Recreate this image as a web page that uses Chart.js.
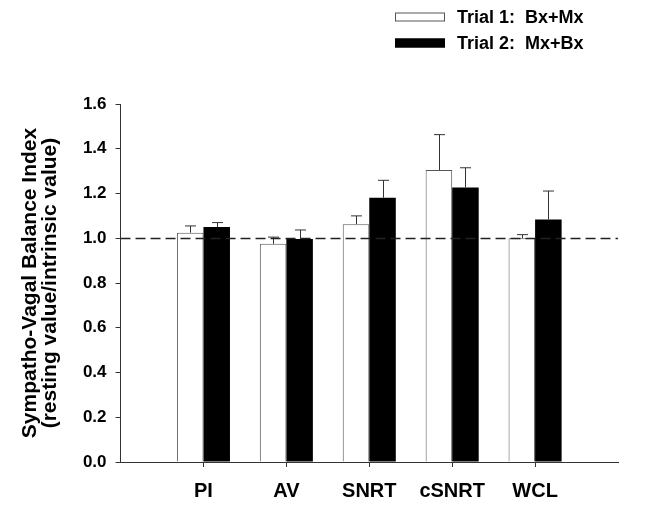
<!DOCTYPE html>
<html>
<head>
<meta charset="utf-8">
<script src="https://cdn.jsdelivr.net/npm/chart.js@4"></script>
<style>
  body { margin: 0; background: #fff; }
  #wrap { width: 645px; height: 509px; }
</style>
</head>
<body>
<div id="wrap"><canvas id="grafico" width="645" height="509"></canvas></div>
<script>
// datos
const categorias = ["", "PI", "AV", "SNRT", "cSNRT", "WCL", ""];
const trial1 = [null, 1.025, 0.975, 1.063, 1.305, 1.0, null];
const trial1Err = [null, 0.03, 0.03, 0.037, 0.158, 0.016, null];
const trial2 = [null, 1.05, 0.997, 1.181, 1.227, 1.084, null];
const trial2Err = [null, 0.02, 0.04, 0.078, 0.088, 0.127, null];
const etiquetasSeries = ["Trial 1:  Bx+Mx", "Trial 2:  Mx+Bx"];
const ticksY = [0, 0.2, 0.4, 0.6, 0.8, 1.0, 1.2, 1.4, 1.6];
const referencia = 1.0;

const fuente = "'Liberation Sans', Arial, sans-serif";

// barras de error (solo hacia arriba)
const erroresPlugin = {
  id: "errores",
  afterDatasetsDraw(chart) {
    const ctx = chart.ctx;
    const y = chart.scales.y;
    const errs = [trial1Err, trial2Err];
    ctx.save();
    ctx.strokeStyle = "#333";
    ctx.lineWidth = 1;
    chart.data.datasets.forEach((ds, i) => {
      const meta = chart.getDatasetMeta(i);
      meta.data.forEach((bar, j) => {
        if (ds.data[j] == null || errs[i][j] == null) return;
        const yTop = y.getPixelForValue(ds.data[j] + errs[i][j]);
        const x = Math.round(bar.x) + 0.5;
        ctx.beginPath();
        ctx.moveTo(x, bar.y);
        ctx.lineTo(x, yTop);
        ctx.moveTo(x - 5.5, yTop);
        ctx.lineTo(x + 5.5, yTop);
        ctx.stroke();
      });
    });
    // linea punteada en 1.0
    const yRef = Math.round(y.getPixelForValue(referencia)) + 0.5;
    ctx.strokeStyle = "#222";
    ctx.lineWidth = 1.5;
    ctx.setLineDash([10, 5]);
    ctx.beginPath();
    ctx.moveTo(chart.chartArea.left, yRef);
    ctx.lineTo(chart.chartArea.right, yRef);
    ctx.stroke();
    ctx.restore();
  }
};

// leyenda arriba a la derecha, una debajo de otra
const leyendaPlugin = {
  id: "leyenda",
  afterDraw(chart) {
    const ctx = chart.ctx;
    ctx.save();
    ctx.font = "bold 18px " + fuente;
    ctx.textBaseline = "middle";
    chart.data.datasets.forEach((ds, i) => {
      const yc = 17 + i * 26;
      ctx.fillStyle = ds.backgroundColor;
      ctx.fillRect(395, yc - 4.5, 50, 9);
      ctx.strokeStyle = ds.borderColor;
      ctx.lineWidth = 1;
      ctx.strokeRect(395.5, yc - 4, 49, 8);
      ctx.fillStyle = "#000";
      ctx.fillText(ds.label, 457, yc + 1);
    });
    ctx.restore();
  }
};

new Chart(document.getElementById("grafico"), {
  type: "bar",
  data: {
    labels: categorias,
    datasets: [
      {
        label: etiquetasSeries[0],
        data: trial1,
        backgroundColor: "#fff",
        borderColor: "#555",
        borderWidth: { top: 1, left: 1, right: 1, bottom: 0 },
        borderSkipped: false
      },
      {
        label: etiquetasSeries[1],
        data: trial2,
        backgroundColor: "#000",
        borderColor: "#000",
        borderWidth: 0
      }
    ]
  },
  options: {
    responsive: false,
    animation: false,
    layout: { padding: { top: 104, left: 13, right: 27, bottom: -6 } },
    datasets: { bar: { categoryPercentage: 0.64, barPercentage: 1.0 } },
    plugins: { legend: { display: false }, tooltip: { enabled: false } },
    scales: {
      x: {
        offset: false,
        grid: {
          offset: false,
          drawOnChartArea: false,
          tickLength: 5,
          color: (c) => (c.index === 0 || c.index === categorias.length - 1) ? "rgba(0,0,0,0)" : "#333"
        },
        border: { color: "#333", width: 1 },
        ticks: {
          color: "#000",
          font: { family: fuente, size: 20, weight: "bold" },
          padding: 12,
          maxRotation: 0,
          autoSkip: false
        }
      },
      y: {
        min: 0,
        max: 1.6,
        afterBuildTicks: (axis) => { axis.ticks = ticksY.map(v => ({ value: v })); },
        grid: { drawOnChartArea: false, tickLength: 5, color: "#333" },
        border: { color: "#333", width: 1 },
        ticks: {
          color: "#000",
          font: { family: fuente, size: 17, weight: "bold" },
          padding: 9,
          callback: (v) => v.toFixed(1)
        },
        title: {
          display: true,
          text: ["Sympatho-Vagal Balance Index", "(resting value/intrinsic value)"],
          color: "#000",
          font: { family: fuente, size: 21, weight: "bold", lineHeight: 0.95 },
          padding: { top: 7, bottom: 14 }
        }
      }
    }
  },
  plugins: [erroresPlugin, leyendaPlugin]
});
</script>
</body>
</html>
